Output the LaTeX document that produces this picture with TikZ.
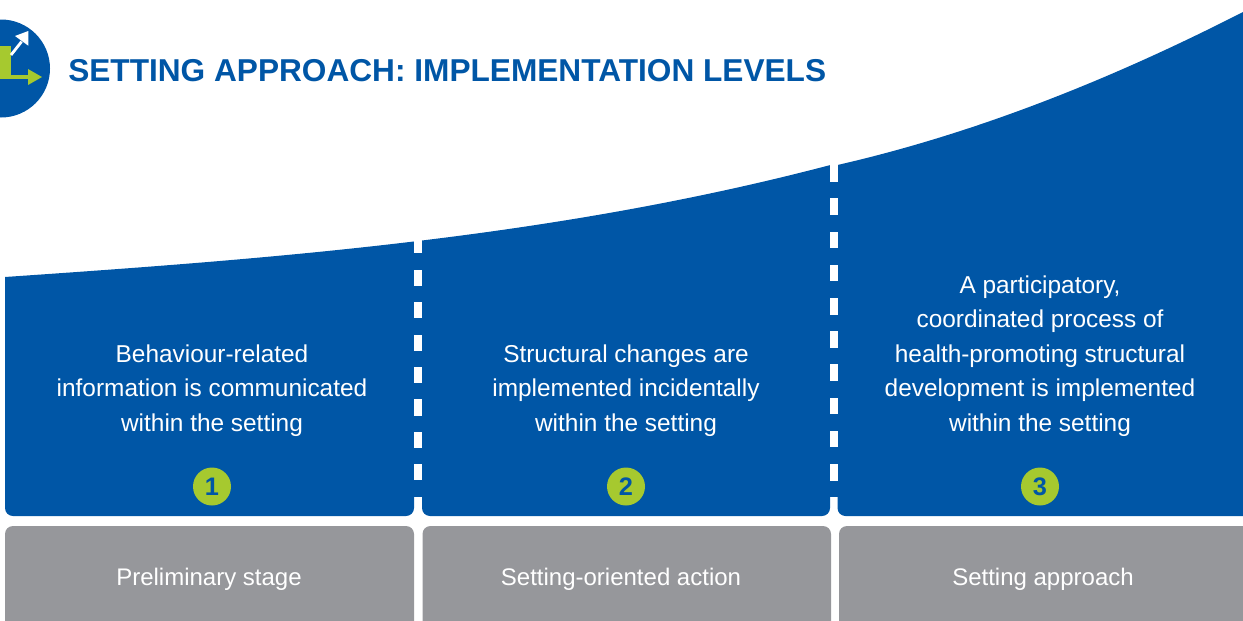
\documentclass[tikz,border=0pt]{standalone}
\usepackage{fontspec}
\setmainfont{Liberation Sans}
\definecolor{bluemain}{HTML}{0056A6}
\definecolor{greenmain}{HTML}{A6C92F}
\definecolor{graymain}{HTML}{96979B}
\tikzset{
  bodytext/.style={text=white,align=center,font=\fontsize{18.3pt}{25.95pt}\selectfont},
  graytext/.style={text=white,font=\fontsize{18pt}{25.95pt}\selectfont},
  numdot/.style={circle,fill=greenmain,minimum size=28.5pt,inner sep=0pt,text=bluemain,font=\bfseries\fontsize{19pt}{20pt}\selectfont},
  titletext/.style={text=bluemain,anchor=west,inner sep=0pt,font=\bfseries\fontsize{23.72pt}{28pt}\selectfont},
  panel/.style={fill=bluemain,rounded corners=6pt},
  graybox/.style={fill=graymain,rounded corners=6pt},
  dashpiece/.style={fill=white},
}
\begin{document}
\begin{tikzpicture}[x=0.75pt,y=-0.75pt]
\useasboundingbox (0,0) rectangle (1243,621);
\clip (0,0) rectangle (1243,621);
% logo
\fill[bluemain] (1,68.5) circle (49);
\fill[greenmain] (-2,46) rectangle (11,79);
\fill[greenmain] (-2,75) rectangle (29,79);
\fill[greenmain] (28,69) -- (42,77) -- (28,85) -- cycle;
\draw[white,line width=2.1pt] (11,55) -- (21.6,41.6);
\fill[white] (15,36) -- (28.3,31) -- (28.3,45.7) -- cycle;
% panels
\begin{scope}
\clip (5,277) .. controls (417.7,248.7) and (830.3,215.9) .. (1243,12) -- (1243,621) -- (5,621) -- cycle;
\fill[bluemain] (414,0) rectangle (422,497);
\fill[bluemain] (830,0) rectangle (838,497);
\fill[panel] (5,-20) rectangle (414,516);
\fill[panel] (422,-20) rectangle (830,516);
\end{scope}
\begin{scope}
\clip (837.5,165) .. controls (973,134) and (1108,81) .. (1243,12) -- (1243,621) -- (837.5,621) -- cycle;
\fill[panel] (837.5,-20) rectangle (1263,516);
\end{scope}
\fill[dashpiece] (413.7,200) rectangle (421.7,253);
\fill[dashpiece] (830,150) rectangle (837.5,182);
\foreach \y in {269.7,302.1,334.5,366.9,399.3,431.7,464.1}
  \fill[dashpiece] (413.7,\y) rectangle (421.7,\y+16.3);
\foreach \y in {198.4,231.6,264.8,298,331.2,364.4,397.6,430.8,464}
  \fill[dashpiece] (830,\y) rectangle (837.5,\y+16.6);
% gray boxes
\fill[graybox] (5,526) rectangle (414,660);
\fill[graybox] (422.5,526) rectangle (831,660);
\fill[graybox] (839,526) rectangle (1263,660);
% texts
\node[titletext] (title) at (68,71) {SETTING APPROACH: IMPLEMENTATION LEVELS};
\node[bodytext] (t1) at (212,390.5) {Behaviour-related\\information is communicated\\within the setting};
\node[bodytext] (t2) at (626,390.5) {Structural changes are\\implemented incidentally\\within the setting};
\node[bodytext] (t3) at (1040,356) {A participatory,\\coordinated process of\\health-promoting structural\\development is implemented\\within the setting};
\node[numdot] (n1) at (212,486.5) {1};
\node[numdot] (n2) at (626,486.5) {2};
\node[numdot] (n3) at (1040,486.5) {3};
\node[graytext] (g1) at (209,579.5) {Preliminary stage};
\node[graytext] (g2) at (621,579.5) {Setting-oriented action};
\node[graytext] (g3) at (1043,579.5) {Setting approach};
\end{tikzpicture}
\end{document}
